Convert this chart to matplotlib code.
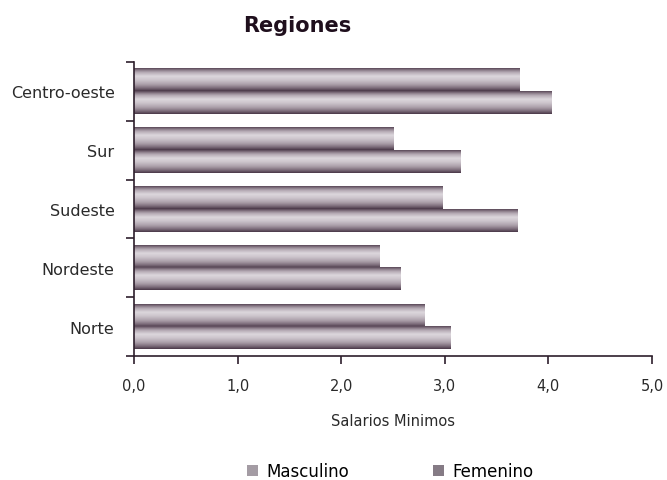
import numpy as np
import matplotlib
matplotlib.use("Agg")
import matplotlib.pyplot as plt
from matplotlib.colors import LinearSegmentedColormap
from matplotlib.patches import Patch

# datos
regiones = ["Norte", "Nordeste", "Sudeste", "Sur", "Centro-oeste"]
masculino = [2.80, 2.37, 2.98, 2.51, 3.72]
femenino = [3.06, 2.57, 3.70, 3.15, 4.03]
xticks = [0, 1, 2, 3, 4, 5]
xtick_labels = ["0,0", "1,0", "2,0", "3,0", "4,0", "5,0"]

eje = "#2e1f2c"
cmap = LinearSegmentedColormap.from_list("cil", ["#4a3848", "#9a8c98", "#dcd6dc"])

fig = plt.figure(figsize=(6.67, 4.81), dpi=100)
ax = fig.add_axes([0.201, 0.258, 0.7765, 0.611])

y = np.arange(len(regiones))
h = 0.385
b_m = ax.barh(y + h / 2, masculino, height=h, color="none", edgecolor="none")
b_f = ax.barh(y - h / 2, femenino, height=h, color="none", edgecolor="none")

# sombreado tipo cilindro (de abajo hacia arriba)
s = np.linspace(0, 1, 64)
perfil = np.interp(s, [0, 0.12, 0.3, 0.5, 0.65, 0.82, 0.93, 1.0],
                   [0.0, 0.3, 0.65, 0.9, 1.0, 0.7, 0.35, 0.1])
grad = perfil[:, None]
for p in list(b_m) + list(b_f):
    x0, y0 = p.get_x(), p.get_y()
    ax.imshow(grad, extent=[x0, x0 + p.get_width(), y0, y0 + p.get_height()],
              origin="lower", aspect="auto", cmap=cmap, vmin=0, vmax=1,
              interpolation="bilinear", zorder=2)

ax.set_xlim(0, 5)
ax.set_ylim(-0.5, len(regiones) - 0.5)

ax.set_xticks(xticks)
ax.set_xticklabels(xtick_labels, fontsize=10.5, color="#2a2a2a")
ax.set_yticks(y)
ax.set_yticklabels(regiones, fontsize=11.5, color="#2a2a2a")
ax.set_yticks(np.arange(-0.5, len(regiones)), minor=True)
ax.tick_params(axis="y", which="major", length=0, pad=14)
ax.tick_params(axis="y", which="minor", length=6, width=1.2, color=eje, direction="out")
ax.tick_params(axis="x", length=6, width=1.2, color=eje, direction="out", pad=10)

for lado in ["top", "right"]:
    ax.spines[lado].set_visible(False)
for lado in ["left", "bottom"]:
    ax.spines[lado].set_color(eje)
    ax.spines[lado].set_linewidth(1.2)

ax.set_xlabel("Salarios Minimos", fontsize=10.5, color="#2a2a2a", labelpad=14)
fig.text(0.445, 0.945, "Regiones", ha="center", va="center",
         fontsize=15, fontweight="bold", color="#1f0f1d")

handles = [Patch(facecolor="#a49ca4", edgecolor="none"),
           Patch(facecolor="#857b85", edgecolor="none")]
fig.legend(handles, ["Masculino", "Femenino"], loc="center",
           bbox_to_anchor=(0.585, 0.018), ncol=2, frameon=False,
           fontsize=12, handlelength=0.7, handleheight=0.7,
           handletextpad=0.5, columnspacing=5)

fig.savefig("out.png", dpi=100)
